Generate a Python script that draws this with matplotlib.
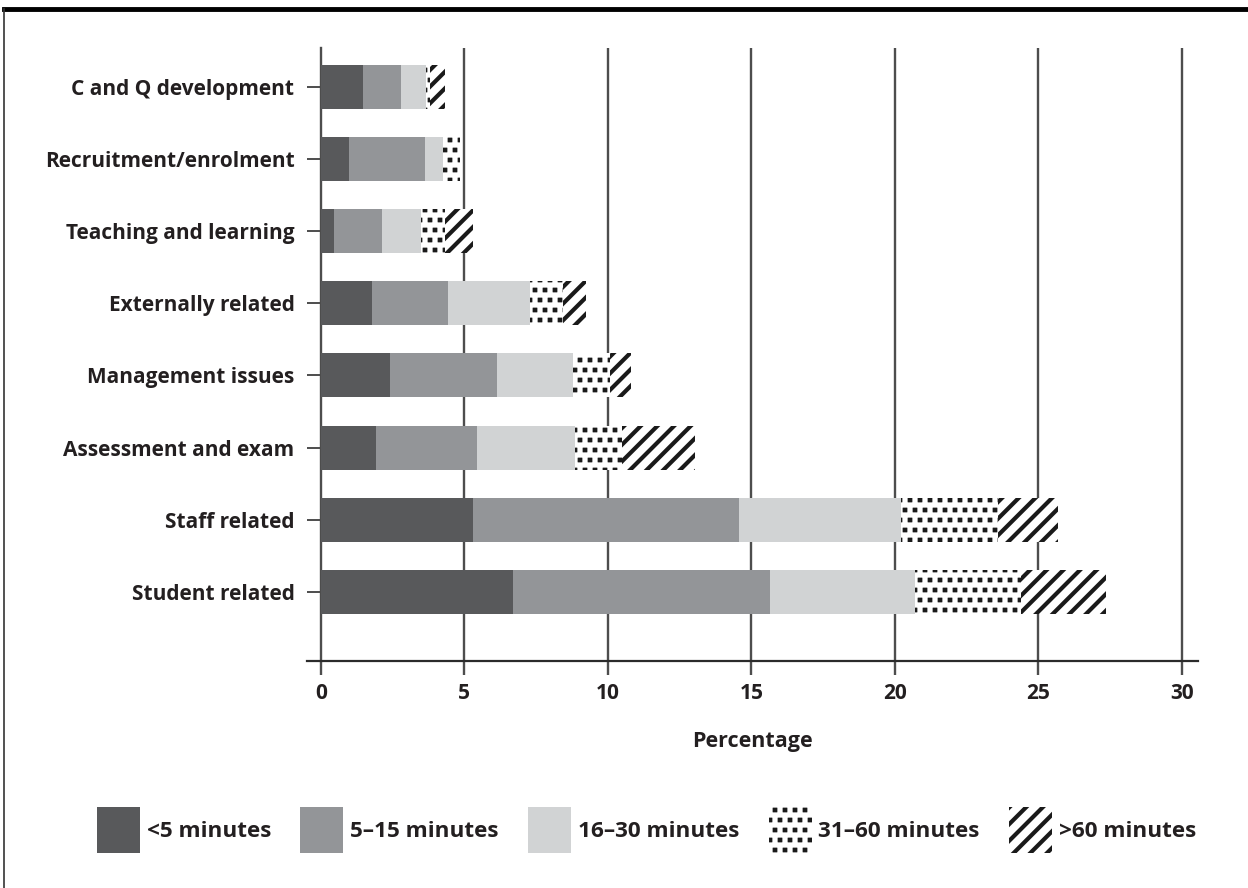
import matplotlib
matplotlib.use("Agg")
from matplotlib import pyplot as plt
from matplotlib import hatch as mhatch
from matplotlib.patches import Patch
from matplotlib.path import Path
import numpy as np

plt.rcParams['font.family'] = ['Open Sans', 'DejaVu Sans']
plt.rcParams['font.weight'] = 'bold'


# square dots instead of round ones for the '.' hatch
class SquareDots(mhatch.Shapes):
    size = 0.42
    filled = True

    def __init__(self, hatch, density):
        # row count has to stay even for the Shapes layout
        self.num_rows = 2 * ((hatch.count('.') * density * 5 // 6) // 2)
        self.shape_vertices = np.array([[-0.5, -0.5], [0.5, -0.5], [0.5, 0.5],
                                        [-0.5, 0.5], [-0.5, -0.5]])
        self.shape_codes = np.array([Path.MOVETO, Path.LINETO, Path.LINETO,
                                     Path.LINETO, Path.CLOSEPOLY], dtype=Path.code_type)
        super().__init__(hatch, density)


mhatch._hatch_types = [SquareDots if t is mhatch.SmallFilledCircles else t
                       for t in mhatch._hatch_types]

# categories listed bottom to top
categories = ["Student related", "Staff related", "Assessment and exam",
              "Management issues", "Externally related", "Teaching and learning",
              "Recruitment/enrolment", "C and Q development"]

lt5 = [6.70, 5.30, 1.93, 2.41, 1.79, 0.46, 0.99, 1.46]
m5_15 = [8.95, 9.28, 3.51, 3.73, 2.64, 1.67, 2.64, 1.34]
m16_30 = [5.06, 5.63, 3.42, 2.65, 2.86, 1.35, 0.63, 0.87]
m31_60 = [3.68, 3.37, 1.62, 1.29, 1.15, 0.85, 0.59, 0.14]
gt60 = [2.96, 2.09, 2.56, 0.73, 0.79, 0.96, 0.0, 0.52]

series = [lt5, m5_15, m16_30, m31_60, gt60]
labels = ["<5 minutes", "5\u201315 minutes", "16\u201330 minutes",
          "31\u201360 minutes", ">60 minutes"]
colors = ["#58595b", "#939598", "#d1d3d4", "white", "white"]
hatches = [None, None, None, "..", "//"]
hatch_lw = [1, 1, 1, 0.3, 3.0]

xticks = [0, 5, 10, 15, 20, 25, 30]
fsize = 15
leg_size = 16.2
txt_col = "#231f20"

fig = plt.figure(figsize=(12.48, 8.88), dpi=100)
ax = fig.add_axes([0.246, 0.2556, 0.714, 0.6904])

y = np.arange(len(categories))
left = np.zeros(len(categories))
for vals, col, h, hl, lab in zip(series, colors, hatches, hatch_lw, labels):
    bars = ax.barh(y, vals, left=left, height=0.61, color=col,
                   edgecolor="#1a1a1a" if h else col, linewidth=0, hatch=h,
                   label=lab, zorder=3)
    for b in bars:
        if hasattr(b, "set_hatch_linewidth"):
            b.set_hatch_linewidth(hl)
    left += np.array(vals)

grid_col = "#4d4d4d"
for t in xticks[1:]:
    ax.axvline(t, color=grid_col, lw=1.7, zorder=1)

ax.set_xlim(-0.48, 30.56)
ax.set_ylim(-0.96, 7.54)

for s in ["top", "right"]:
    ax.spines[s].set_visible(False)
ax.spines['left'].set_position(('data', 0))
ax.spines['left'].set_color(grid_col)
ax.spines['left'].set_linewidth(1.7)
ax.spines['bottom'].set_color("#2b2b2b")
ax.spines['bottom'].set_linewidth(1.6)

ax.set_yticks(y)
ax.set_yticklabels(categories, fontsize=fsize, fontweight='bold', color=txt_col)
ax.set_xticks(xticks)
ax.set_xticklabels([str(t) for t in xticks], fontsize=fsize, fontweight='bold', color=txt_col)
ax.tick_params(axis='y', length=10, width=1.4, color=grid_col, pad=9)
ax.tick_params(axis='x', length=10, width=1.7, color=grid_col, pad=6)
ax.set_xlabel("Percentage", fontsize=15.5, fontweight='bold', color=txt_col, labelpad=19)

handles = []
for col, h, lab in zip(colors, hatches, labels):
    handles.append(Patch(facecolor=col, edgecolor="#1a1a1a" if h else col,
                         linewidth=0, hatch=h, label=lab))
leg = fig.legend(handles=handles, loc="center", bbox_to_anchor=(0.518, 0.065), ncol=5,
                 frameon=False, handlelength=1.92, handleheight=2.75, handletextpad=0.3,
                 columnspacing=1.3, prop={'size': leg_size, 'weight': 'bold'})
for t in leg.get_texts():
    t.set_color(txt_col)
for p, hl in zip(leg.get_patches(), hatch_lw):
    if hasattr(p, "set_hatch_linewidth"):
        p.set_hatch_linewidth(hl)

# frame lines of the figure panel
fig.add_artist(plt.Line2D([0.003, 1.0], [0.9898, 0.9898], color="black", lw=3.5,
                          transform=fig.transFigure))
fig.add_artist(plt.Line2D([0.0036, 0.0036], [0.0, 0.99], color="#333333", lw=1.2,
                          transform=fig.transFigure))

fig.savefig("out.png", dpi=100)
